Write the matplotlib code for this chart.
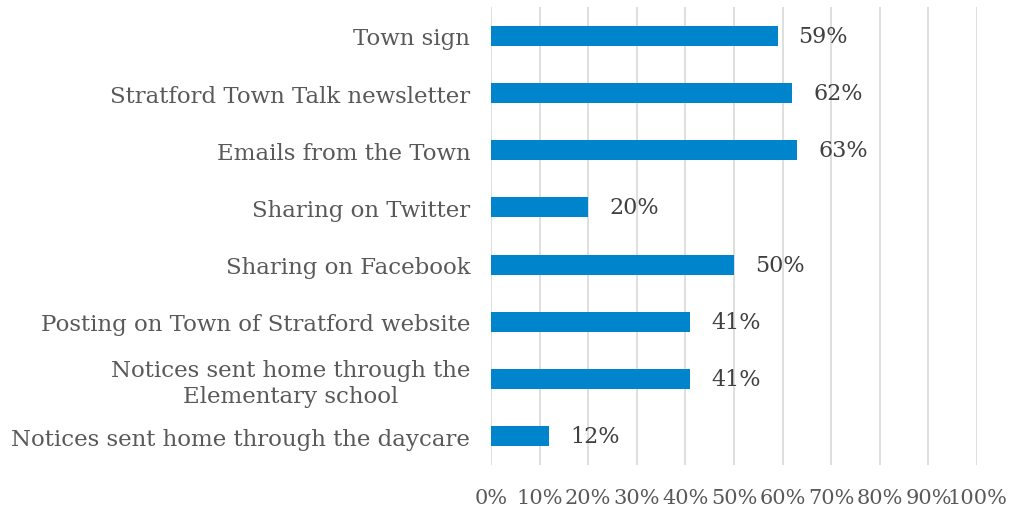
import matplotlib.pyplot as plt
from matplotlib.ticker import PercentFormatter

plt.rcParams['font.family'] = ['DejaVu Serif']

channels = [
    'Town sign',
    'Stratford Town Talk newsletter',
    'Emails from the Town',
    'Sharing on Twitter',
    'Sharing on Facebook',
    'Posting on Town of Stratford website',
    'Notices sent home through the\nElementary school',
    'Notices sent home through the daycare',
]
shares = [0.59, 0.62, 0.63, 0.20, 0.50, 0.41, 0.41, 0.12]
ticks = [i / 10 for i in range(11)]

bar_color = '#0085CC'
text_color = '#595959'

fig = plt.figure(figsize=(10.11, 5.10), dpi=100)
ax = fig.add_axes([0.4857, 0.0871, 0.4807, 0.8964])

pos = list(range(len(channels)))[::-1]
ax.barh(pos, shares, height=0.35, color=bar_color, zorder=2)

for y, v in zip(pos, shares):
    ax.annotate(f'{v:.0%}', (v, y), xytext=(15, 0), textcoords='offset points',
                va='center', ha='left', fontsize=16, color='#404040')

ax.set_xlim(0, 1)
ax.set_ylim(-0.5, len(channels) - 0.5)
ax.set_xticks(ticks)
ax.xaxis.set_major_formatter(PercentFormatter(1.0, decimals=0))
ax.set_yticks(pos)
ax.set_yticklabels(channels)
for lbl in ax.get_yticklabels():
    lbl.set_multialignment('center')

ax.grid(axis='x', color='#D9D9D9', linewidth=1.2, zorder=0)
for s in ax.spines.values():
    s.set_visible(False)
ax.tick_params(axis='both', length=0, colors=text_color)
ax.tick_params(axis='y', labelsize=16.5, pad=15)
ax.tick_params(axis='x', labelsize=15, pad=17)

fig.savefig('out.png', dpi=100)
